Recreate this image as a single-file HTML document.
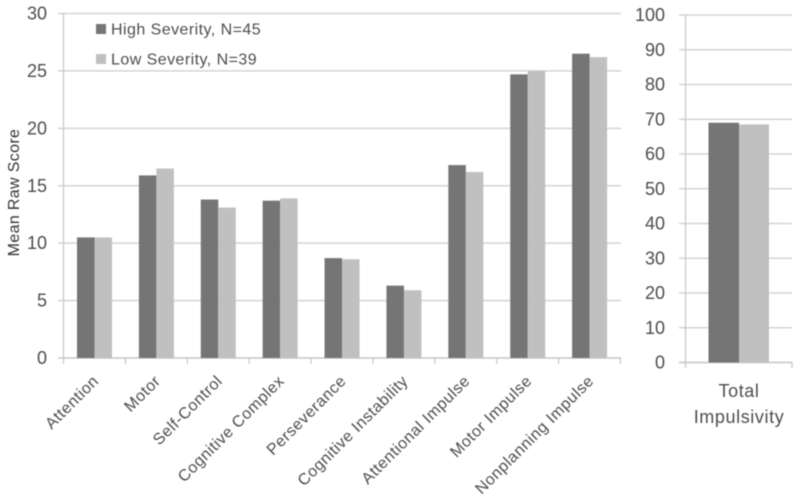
<!DOCTYPE html>
<html><head><meta charset="utf-8"><style>
html,body{margin:0;padding:0;background:#fff}
svg{display:block;filter:blur(.55px)}
text{font-family:"Liberation Sans",sans-serif;fill:#4d4d4d}
</style></head><body>
<svg id="chart" xmlns="http://www.w3.org/2000/svg" width="800" height="504" viewBox="0 0 800 504"></svg>
<script>
const categories = ["Attention","Motor","Self-Control","Cognitive Complex","Perseverance","Cognitive Instability","Attentional Impulse","Motor Impulse","Nonplanning Impulse"];
const highSeverity = [10.5,15.9,13.8,13.7,8.7,6.3,16.8,24.7,26.5];
const lowSeverity = [10.5,16.5,13.1,13.9,8.6,5.9,16.2,25.0,26.2];
const leftTicks = [0,5,10,15,20,25,30];
const totalCategory = ["Total","Impulsivity"];
const totalHigh = [69];
const totalLow = [68.5];
const rightTicks = [0,10,20,30,40,50,60,70,80,90,100];
const legendLabels = ["High Severity, N=45","Low Severity, N=39"];
const NS='http://www.w3.org/2000/svg', svg=document.getElementById('chart');
const HIGH='#757575', LOW='#c0c0c0', GRID='#d4d4d4', AXIS='#c6c6c6';
function mk(tag,attrs,parent){const e=document.createElementNS(NS,tag);for(const k in attrs)e.setAttribute(k,attrs[k]);(parent||svg).appendChild(e);return e;}
const yL=v=>358-(v/30)*344.5;
const xL=i=>63.5+i*(557/categories.length);
const yR=v=>362.5-(v/100)*347.5;

leftTicks.forEach(t=>{
  const l=mk('line',{x1:58,x2:621,y1:yL(t),y2:yL(t),stroke:t?GRID:AXIS,'stroke-width':1.5});
  
  
  const s=mk('text',{x:47,y:yL(t)+6,'text-anchor':'end','font-size':18});
  s.textContent=t;
  
  
});
const lAxis=mk('line',{x1:63.5,x2:63.5,y1:13,y2:358,stroke:AXIS,'stroke-width':1.2});


for(let i=0;i<=categories.length;i++){
  const k=mk('line',{x1:xL(i),x2:xL(i),y1:358,y2:364,stroke:AXIS,'stroke-width':1.2});
  
  
}
categories.forEach((c,i)=>{
  const cx=xL(i)+31;
  const a=mk('rect',{x:cx-17.5,y:yL(highSeverity[i]),width:17.5,height:358-yL(highSeverity[i]),fill:HIGH});
  
  
  const b=mk('rect',{x:cx,y:yL(lowSeverity[i]),width:17.5,height:358-yL(lowSeverity[i]),fill:LOW});
  
  
  const px=cx+5,py=382;
  const t=mk('text',{x:px,y:py,'text-anchor':'end','font-size':16,'letter-spacing':'.5',transform:`rotate(-45 ${px} ${py})`});
  t.textContent=c;
  
  
});
const yTitle=mk('text',{x:19,y:192.5,'text-anchor':'middle','font-size':16,'letter-spacing':'.35',transform:'rotate(-90 19 192.5)',style:'fill:#333'});
yTitle.textContent='Mean Raw Score';



legendLabels.forEach((n,i)=>{
  const y=[29,59][i];
  const r=mk('rect',{x:96,y:y-5,width:10,height:10,fill:i?LOW:HIGH});
  
  
  const t=mk('text',{x:111,y:y+5.5,'font-size':16,'letter-spacing':'.45'});
  t.textContent=n;
  
  
});

rightTicks.forEach(t=>{
  const l=mk('line',{x1:679,x2:792,y1:yR(t),y2:yR(t),stroke:t?GRID:AXIS,'stroke-width':1.5});
  
  
  const s=mk('text',{x:665,y:yR(t)+6,'text-anchor':'end','font-size':18});
  s.textContent=t;
  
  
});
const rAxis=mk('line',{x1:685.5,x2:685.5,y1:15,y2:368,stroke:AXIS,'stroke-width':1.2});


const rTick=mk('line',{x1:792,x2:792,y1:362,y2:368,stroke:AXIS,'stroke-width':1.2});


const ra=mk('rect',{x:708.5,y:yR(totalHigh[0]),width:30.5,height:362.5-yR(totalHigh[0]),fill:HIGH});


const rb=mk('rect',{x:739,y:yR(totalLow[0]),width:30,height:362.5-yR(totalLow[0]),fill:LOW});


totalCategory.forEach((s,i)=>{
  const t=mk('text',{x:739,y:397+i*26,'text-anchor':'middle','font-size':18,'letter-spacing':'.6'});
  t.textContent=s;
  
  
});
</script>
</body></html>
